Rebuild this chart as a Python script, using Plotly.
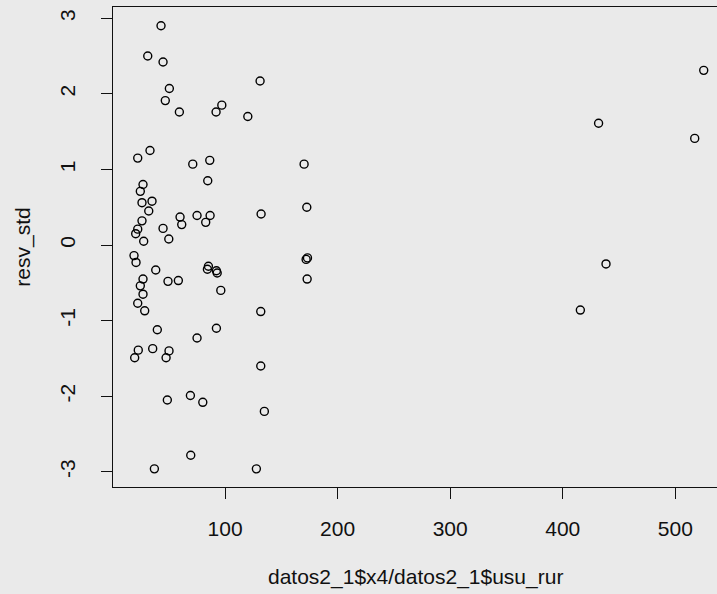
import plotly.graph_objects as go

# Ratio datos2_1$x4/datos2_1$usu_rur (x) and standardised residuals (y)
x_ratio = [43.1, 31.3, 44.9, 131.1, 50.5, 46.9, 97.1, 92.0, 59.4, 120.2,
           33.3, 22.4, 71.3, 86.4, 84.6, 27.1, 24.7, 35.1, 26.2, 32.2,
           26.2, 60.0, 61.5, 75.1, 86.7, 82.8, 132.0, 44.9, 22.4, 20.6,
           50.0, 27.7, 19.1, 20.9, 38.4, 85.2, 84.3, 92.3, 93.0, 27.1,
           24.7, 27.1, 22.4, 28.6, 49.3, 58.5, 96.2, 131.7, 39.8, 92.3,
           75.1, 22.9, 19.7, 35.7, 50.2, 47.6, 131.7, 48.7, 69.2, 80.2,
           134.9, 69.5, 37.2, 127.8, 170.2, 172.6, 172.0, 173.2, 172.9,
           525.2, 431.8, 517.2, 438.4, 415.6]
resv_std = [2.90, 2.50, 2.42, 2.17, 2.07, 1.91, 1.85, 1.76, 1.76, 1.70,
            1.25, 1.15, 1.07, 1.12, 0.85, 0.80, 0.71, 0.58, 0.56, 0.45,
            0.32, 0.37, 0.27, 0.39, 0.39, 0.30, 0.41, 0.22, 0.21, 0.15,
            0.08, 0.05, -0.14, -0.23, -0.33, -0.28, -0.32, -0.34, -0.37, -0.45,
            -0.54, -0.65, -0.77, -0.87, -0.48, -0.47, -0.60, -0.88, -1.12, -1.10,
            -1.23, -1.39, -1.49, -1.37, -1.40, -1.49, -1.60, -2.05, -1.99, -2.08,
            -2.20, -2.78, -2.96, -2.96, 1.07, 0.50, -0.19, -0.17, -0.45,
            2.31, 1.61, 1.41, -0.25, -0.86]

x_ticks = [100, 200, 300, 400, 500]
y_ticks = [-3, -2, -1, 0, 1, 2, 3]
x_title = "datos2_1$x4/datos2_1$usu_rur"
y_title = "resv_std"

BG = "#eaeaea"
FONT = "Liberation Sans, Arial, sans-serif"
INK = "#111111"
FS = 21

fig = go.Figure(go.Scatter(
    x=x_ratio, y=resv_std, mode="markers",
    marker=dict(symbol="circle-open", size=8, color="black",
                line=dict(color="black", width=1.4)),
    hoverinfo="x+y",
))

fig.update_layout(
    width=717, height=594,
    margin=dict(l=113, r=0, t=7, b=107),
    paper_bgcolor=BG, plot_bgcolor=BG,
    showlegend=False,
    font=dict(family=FONT, size=FS, color=INK),
    xaxis=dict(range=[0.44, 537], tickvals=x_ticks, ticktext=[str(v) for v in x_ticks],
               showgrid=False, zeroline=False, showline=True, linecolor=INK,
               linewidth=1.3, mirror=True, ticks="outside", ticklen=11,
               tickcolor=INK, tickwidth=1.3, ticklabelstandoff=12),
    yaxis=dict(range=[-3.20, 3.148], tickvals=y_ticks, ticktext=[str(v) for v in y_ticks],
               showgrid=False, zeroline=False, showline=True, linecolor=INK,
               linewidth=1.3, mirror=False, ticks="outside", ticklen=11,
               tickcolor=INK, tickwidth=1.3, tickangle=-90, ticklabelstandoff=17),
    annotations=[
        dict(text=x_title, xref="paper", yref="paper", x=0.5, y=-0.188,
             xanchor="center", yanchor="middle", showarrow=False,
             font=dict(family=FONT, size=FS, color=INK)),
        dict(text=y_title, xref="paper", yref="paper", x=-0.1495, y=0.5,
             xanchor="center", yanchor="middle", showarrow=False, textangle=-90,
             font=dict(family=FONT, size=FS, color=INK)),
    ],
)

fig.write_html("out.html")
